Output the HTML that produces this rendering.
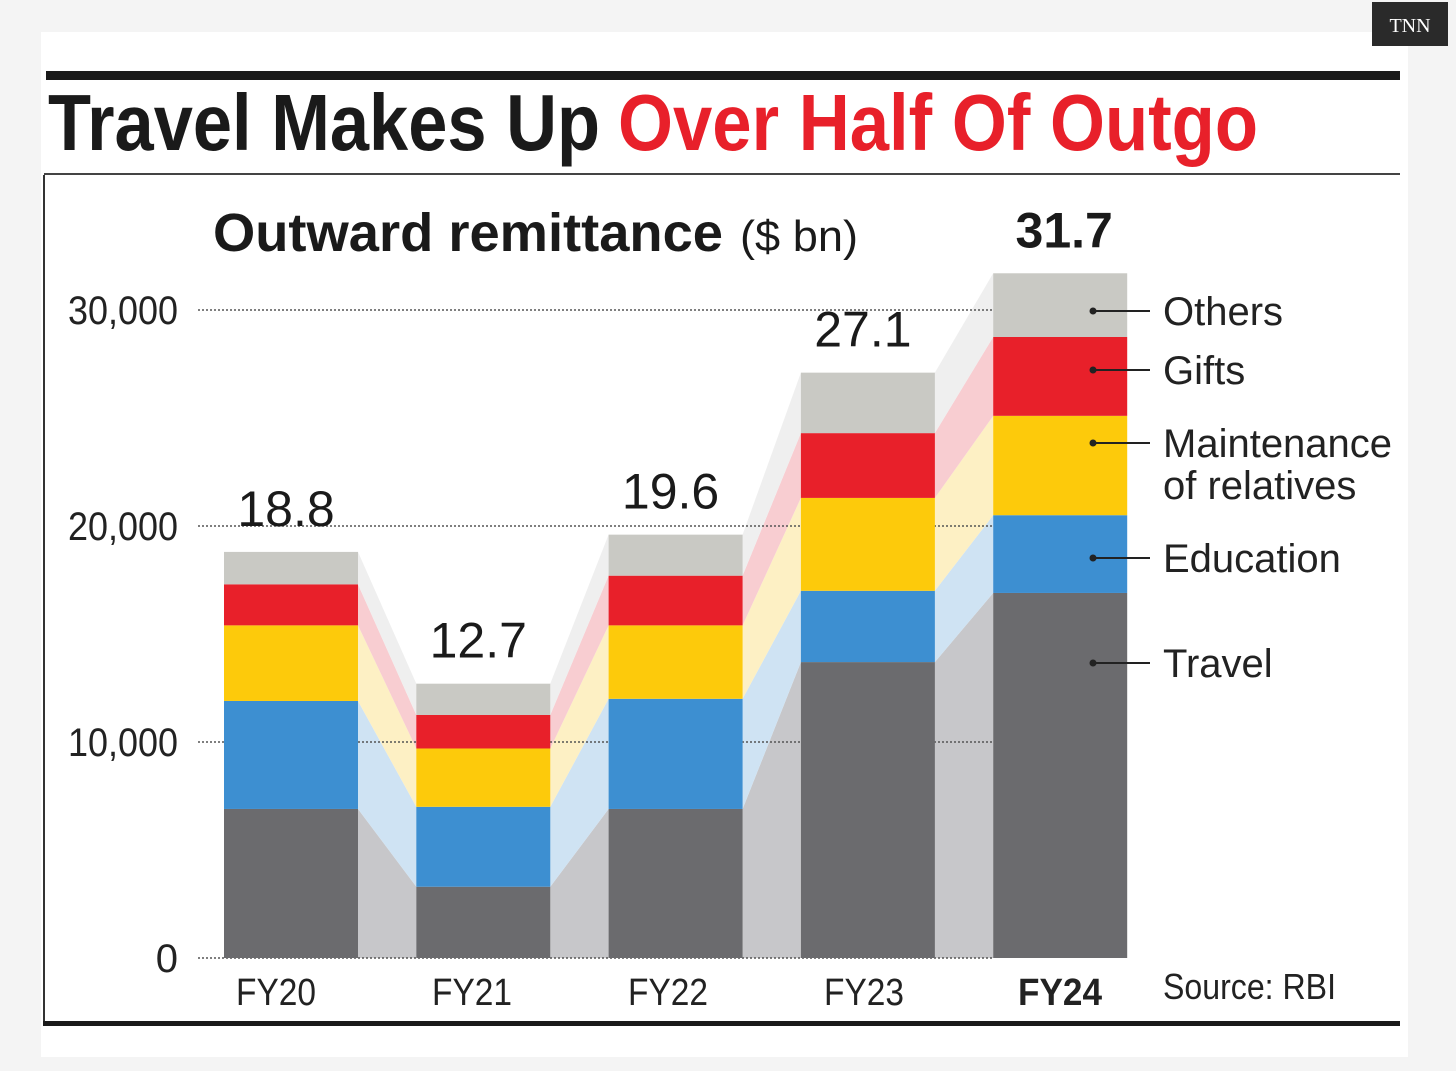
<!DOCTYPE html>
<html><head><meta charset="utf-8">
<style>
html,body{margin:0;padding:0;background:#f4f4f4;}
svg{display:block;font-family:"Liberation Sans Narrow","Liberation Sans",sans-serif;}
</style></head>
<body>
<svg id="chart" width="1456" height="1071" viewBox="0 0 1456 1071">
  <rect x="41" y="32" width="1367" height="1025" fill="#ffffff"/>
  <rect x="1372" y="2" width="76" height="44" fill="#2a2a2a"/>
  <text x="1410" y="32" text-anchor="middle" fill="#fff" font-family="Liberation Serif,serif" font-size="20">TNN</text>
  <rect x="46" y="71" width="1354" height="9" fill="#1a1a1a"/>
  <text y="150" font-size="80" font-weight="bold">
    <tspan x="48" fill="#1a1a1a" textLength="552" lengthAdjust="spacingAndGlyphs">Travel Makes Up</tspan>
    <tspan x="618" fill="#e8202a" textLength="640" lengthAdjust="spacingAndGlyphs">Over Half Of Outgo</tspan>
  </text>
  <rect x="44" y="173" width="1356" height="2" fill="#444"/>
  <rect x="43" y="175" width="2" height="850" fill="#333"/>
  <rect x="43" y="1021" width="1357" height="5" fill="#1a1a1a"/>
  <text x="213" y="251" font-size="54" font-weight="bold" fill="#1a1a1a" textLength="510" lengthAdjust="spacingAndGlyphs">Outward remittance</text>
  <text x="740" y="251" font-size="44" fill="#1a1a1a" textLength="118" lengthAdjust="spacingAndGlyphs">($ bn)</text>
  <g id="bands"></g>
  <g id="grid"></g>
  <g id="bars"></g>
  <g id="labels"></g>
  <g id="legend"></g>
  <text x="1163" y="999" font-size="36" fill="#222" textLength="173" lengthAdjust="spacingAndGlyphs">Source: RBI</text>
</svg>
<script>
const categories = ["FY20","FY21","FY22","FY23","FY24"];
const travel      = [6.9, 3.3, 6.9, 13.7, 16.9];
const education   = [5.0, 3.7, 5.1, 3.3, 3.6];
const maintenance = [3.5, 2.7, 3.4, 4.3, 4.6];
const gifts       = [1.9, 1.55, 2.3, 3.0, 3.65];
const others      = [1.5, 1.45, 1.9, 2.8, 2.95];
const totals      = ["18.8","12.7","19.6","27.1","31.7"];
const yTicks      = [0, 10000, 20000, 30000];
const yTickLabels = ["0","10,000","20,000","30,000"];
const seriesNames = ["Travel","Education","Maintenance of relatives","Gifts","Others"];

const NS="http://www.w3.org/2000/svg";
const series=[travel,education,maintenance,gifts,others];
const colors=["#6b6b6e","#3d8fd1","#fdca0b","#e8202a","#c9c9c4"];
const bandColors=["#c7c7ca","#cfe3f3","#fdf0c4","#f8cdd1","#efefef"];
function y(v){return 958-(v/1000)*21.6;}
function x(i){return 224+i*192.3;}
const bw=134;
function el(tag,attrs,parent){const e=document.createElementNS(NS,tag);for(const k in attrs)e.setAttribute(k,attrs[k]);parent.appendChild(e);return e;}
const gB=document.getElementById('bands'),gG=document.getElementById('grid'),gR=document.getElementById('bars'),gL=document.getElementById('labels'),gLeg=document.getElementById('legend');
const cum=categories.map((c,i)=>{let s=0;return series.map(a=>{const b=s;s+=a[i];return [b*1000,s*1000];});});
for(let i=0;i<categories.length-1;i++){
  for(let k=0;k<series.length;k++){
    const a=cum[i][k],b=cum[i+1][k];
    const x1=x(i)+bw,x2=x(i+1);
    const p=el('polygon',{points:`${x1},${y(a[1])} ${x2},${y(b[1])} ${x2},${y(b[0])} ${x1},${y(a[0])}`,fill:bandColors[k]},gB);
    
    
  }
}
yTicks.forEach((t,i)=>{
  const l=el('line',{x1:198,x2:992,y1:y(t),y2:y(t),stroke:"#555","stroke-width":1.5,"stroke-dasharray":"2,2"},gG);
  
  
  const attrs={x:178,y:y(t)+14,"text-anchor":"end","font-size":40,fill:"#222"};
  if(yTickLabels[i].length>1){attrs.textLength=110;attrs.lengthAdjust="spacingAndGlyphs";}
  const tx=el('text',attrs,gG);
  tx.textContent=yTickLabels[i];
  
  
});
categories.forEach((c,i)=>{
  series.forEach((s,k)=>{
    const [a,b]=cum[i][k];
    const r=el('rect',{x:x(i),y:y(b),width:bw,height:y(a)-y(b),fill:colors[k]},gR);
    
    
  });
  const top=cum[i][4][1];
  const last=i===categories.length-1;
  const t=el('text',{x:x(i)+bw/2-5+(last?9:0),y:y(top)-26,"text-anchor":"middle","font-size":50,fill:"#1a1a1a","font-weight":last?"bold":"normal"},gL);
  t.textContent=totals[i];
  
  
  const xl=el('text',{x:x(i)+bw/2-15+i*3.7,y:1005,"text-anchor":"middle","font-size":38,fill:"#222","font-weight":last?"bold":"normal",textLength:last?84:80,lengthAdjust:"spacingAndGlyphs"},gL);
  xl.textContent=c;
  
  
});
const legY=[663,558,443,370,311];
series.forEach((s,k)=>{
  el('line',{x1:1093,x2:1150,y1:legY[k],y2:legY[k],stroke:"#222","stroke-width":2},gLeg);
  el('circle',{cx:1093,cy:legY[k],r:3.5,fill:"#222"},gLeg);
  const t=el('text',{x:1163,y:legY[k]+14,"font-size":40,fill:"#222"},gLeg);
  
  
  if(k===2){
    el('tspan',{x:1163},t).textContent="Maintenance";
    el('tspan',{x:1163,dy:42},t).textContent="of relatives";
  } else t.textContent=seriesNames[k];
});
</script>
</body></html>
